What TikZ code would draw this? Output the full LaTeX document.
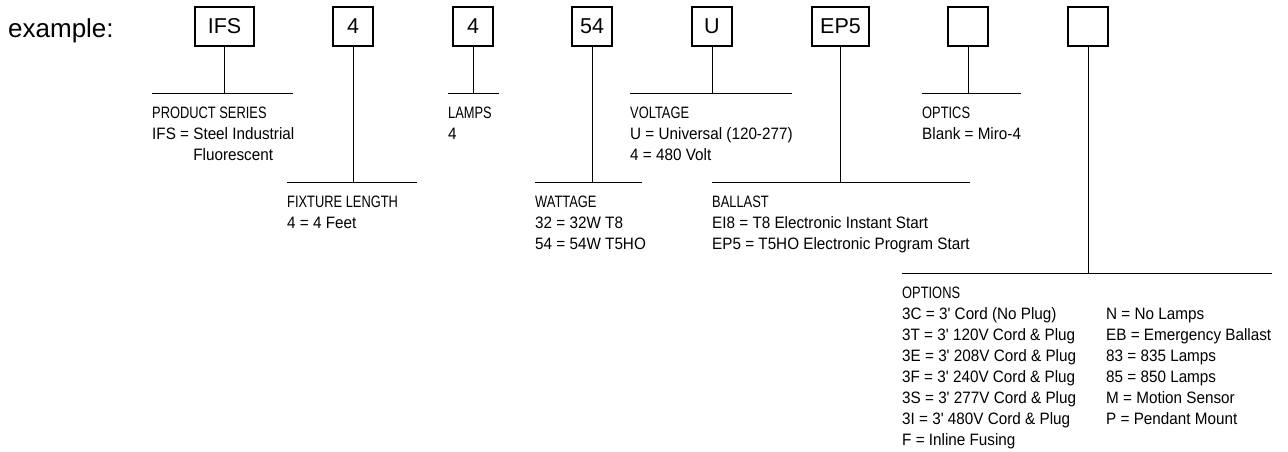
\documentclass[tikz,border=0pt]{standalone}
\usepackage{fontspec}
\setmainfont{Liberation Sans}
\newfontfamily\hdfont[FakeStretch=0.78]{Liberation Sans}
\newfontfamily\bdfont[FakeStretch=0.925]{Liberation Sans}
\newcommand\hd[1]{\hbox{\hdfont #1}}
\newcommand\bd[1]{\hbox{\bdfont #1}}
\begin{document}
\begin{tikzpicture}[x=1pt,y=-1pt,
  codebox/.style={draw, line width=1.1pt, minimum height=39pt, inner sep=0pt, font=\fontsize{21.5}{24}\selectfont},
  conn/.style={line width=1pt},
  txt/.style={anchor=base west, inner sep=0pt, font=\fontsize{16.5}{21}\selectfont}]
\useasboundingbox (0,0) rectangle (1288,451);

\node[anchor=base west, inner sep=0pt, font=\fontsize{26}{30}\selectfont] (ex) at (8,37) {example:};

% code boxes
\node[codebox, minimum width=59pt] (b1) at (224.5,26.5) {IFS};
\node[codebox, minimum width=40pt] (b2) at (353,26.5) {4};
\node[codebox, minimum width=40pt] (b3) at (473,26.5) {4};
\node[codebox, minimum width=40pt] (b4) at (592,26.5) {54};
\node[codebox, minimum width=40pt] (b5) at (712,26.5) {U};
\node[codebox, minimum width=57pt] (b6) at (840.5,26.5) {EP5};
\node[codebox, minimum width=40pt] (b7) at (968,26.5) {};
\node[codebox, minimum width=40pt] (b8) at (1088,26.5) {};

% horizontal bar end points
\coordinate (l1a) at (152,93);  \coordinate (l1b) at (293,93);
\coordinate (l2a) at (287,182); \coordinate (l2b) at (417,182);
\coordinate (l3a) at (448,93);  \coordinate (l3b) at (499,93);
\coordinate (l4a) at (535,182); \coordinate (l4b) at (642,182);
\coordinate (l5a) at (630,93);  \coordinate (l5b) at (792,93);
\coordinate (l6a) at (712,182); \coordinate (l6b) at (970,182);
\coordinate (l7a) at (922,93);  \coordinate (l7b) at (1021,93);
\coordinate (l8a) at (902,273); \coordinate (l8b) at (1272,273);

\foreach \i in {1,...,8}{
  \draw[conn] (l\i a) -- (l\i b);
  \draw[conn] (b\i.south) -- (b\i.south |- l\i a);
}

% texts
\node[txt] (t1) at (152,118) {\vtop{\hd{PRODUCT SERIES}\bd{IFS = Steel Industrial}\bd{\phantom{IFS = }Fluorescent}}};
\node[txt] (t2) at (287,207) {\vtop{\hd{FIXTURE LENGTH}\bd{4 = 4 Feet}}};
\node[txt] (t3) at (448,118) {\vtop{\hd{LAMPS}\bd{4}}};
\node[txt] (t4) at (535,207) {\vtop{\hd{WATTAGE}\bd{32 = 32W T8}\bd{54 = 54W T5HO}}};
\node[txt] (t5) at (630,118) {\vtop{\hd{VOLTAGE}\bd{U = Universal (120-277)}\bd{4 = 480 Volt}}};
\node[txt] (t6) at (712,207) {\vtop{\hd{BALLAST}\bd{EI8 = T8 Electronic Instant Start}\bd{EP5 = T5HO Electronic Program Start}}};
\node[txt] (t7) at (922,118) {\vtop{\hd{OPTICS}\bd{Blank = Miro-4}}};
\node[txt] (t8) at (902,298) {\vtop{\hd{OPTIONS}\bd{3C = 3' Cord (No Plug)}\bd{3T = 3' 120V Cord \& Plug}\bd{3E = 3' 208V Cord \& Plug}\bd{3F = 3' 240V Cord \& Plug}\bd{3S = 3' 277V Cord \& Plug}\bd{3I = 3' 480V Cord \& Plug}\bd{F = Inline Fusing}}};
\node[txt] (t9) at (1106,319) {\vtop{\bd{N = No Lamps}\bd{EB = Emergency Ballast}\bd{83 = 835 Lamps}\bd{85 = 850 Lamps}\bd{M = Motion Sensor}\bd{P = Pendant Mount}}};
\end{tikzpicture}
\end{document}
